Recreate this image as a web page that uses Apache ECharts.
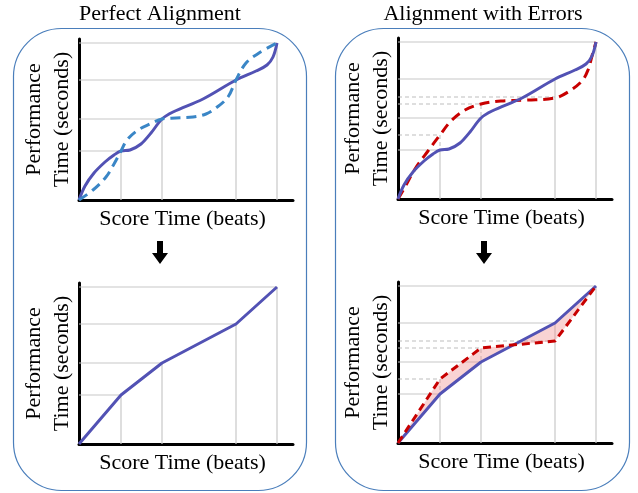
<!DOCTYPE html>
<html>
<head>
<meta charset="utf-8">
<script src="https://cdn.jsdelivr.net/npm/echarts@6/dist/echarts.min.js"></script>
<style>
html,body{margin:0;padding:0;background:#fff;}
#c{width:638px;height:493px;}
</style>
</head>
<body>
<div id="c"></div>
<script>
// ---- data (score time vs performance time, arbitrary units) ----
const panelTitles = ['Perfect Alignment', 'Alignment with Errors'];
const xAxisLabel = 'Score Time (beats)';
const yAxisLabel = 'Performance\nTime (seconds)';

// note onsets (score time) and their true performance times
const noteX = [42, 83, 157, 198];
const alignY = [49, 81, 120, 157];
// erroneous alignment performance times at the same notes
const errY = [64, 95, 102, 157];

// continuous true warping curve
const perfCurveX = [0, 6, 15, 26, 35, 42, 51, 62, 72, 83, 94, 124, 157, 177, 188, 194, 198];
const perfCurveY = [0, 14, 27, 38, 45, 49, 50, 56, 67, 81, 88, 101, 120, 129, 135, 143, 157];

// continuous perfect alignment (dashed, left)
const alignCurveX = [0, 14, 27, 35, 42, 48, 59, 71, 83, 97, 114, 127, 137, 149, 157, 167, 180, 198];
const alignCurveY = [0, 10, 23, 36, 49, 60, 70, 76, 81, 82, 83, 86, 92, 103, 120, 137, 147, 157];

// continuous erroneous alignment (dashed red, right)
const errCurveX = [0, 7, 17, 30, 42, 53, 67, 83, 103, 130, 157, 170, 184, 190, 194, 198];
const errCurveY = [0, 12, 30, 48, 64, 78, 89, 95, 98, 99, 101, 107, 118, 129, 143, 157];

const xMax = 214, yMax = 161;

// ---- build ----
const zip = (xs, ys) => xs.map((x, i) => [x, ys[i]]);
const FONT = '"Liberation Serif", "Times New Roman", serif';
const GRID_C = '#C8C8C8';
const PURPLE = '#5252B4';
const LBLUE = '#3A86C6';
const RED = '#C80000';

const grids = [
  {left: 79, top: 39, width: xMax, height: yMax},
  {left: 398, top: 38, width: xMax, height: yMax},
  {left: 79, top: 283, width: xMax, height: yMax},
  {left: 398, top: 282, width: xMax, height: yMax}
];

const xAxes = grids.map((g, i) => ({
  type: 'value', gridIndex: i, min: 0, max: xMax,
  axisLine: {show: true, lineStyle: {color: '#000', width: 3}},
  axisTick: {show: false}, axisLabel: {show: false}, splitLine: {show: false},
  name: xAxisLabel, nameLocation: 'middle', nameGap: 8,
  nameTextStyle: {fontFamily: FONT, fontSize: 22, color: '#000', lineHeight: 22, padding: [0, 7, 0, 0]}
}));
const yAxes = grids.map((g, i) => ({
  type: 'value', gridIndex: i, min: 0, max: yMax,
  axisLine: {show: true, lineStyle: {color: '#000', width: 3}},
  axisTick: {show: false}, axisLabel: {show: false}, splitLine: {show: false},
  name: yAxisLabel, nameLocation: 'middle', nameGap: 3, nameRotate: 90,
  nameTextStyle: {fontFamily: FONT, fontSize: 22, color: '#000', lineHeight: 28}
}));

const series = [];
function dropLines(ax) {
  noteX.forEach((x, i) => {
    series.push({
      type: 'line', xAxisIndex: ax, yAxisIndex: ax, silent: true, symbol: 'none', animation: false,
      data: [[0, alignY[i]], [x, alignY[i]], [x, 0]],
      lineStyle: {color: GRID_C, width: 1.2}, z: 1
    });
  });
}
function errGuides(ax) {
  noteX.forEach((x, i) => {
    if (errY[i] === alignY[i]) return;
    const d = [[0, errY[i]], [x, errY[i]]];
    if (errY[i] > alignY[i]) d.push([x, alignY[i]]);
    series.push({
      type: 'line', xAxisIndex: ax, yAxisIndex: ax, silent: true, symbol: 'none', animation: false,
      data: d, lineStyle: {color: '#BDBDBD', width: 1, type: [4, 3]}, z: 1
    });
  });
}
for (let a = 0; a < 4; a++) dropLines(a);
errGuides(1); errGuides(3);

// fill between alignments (bottom right)
series.push({
  type: 'custom', xAxisIndex: 3, yAxisIndex: 3, silent: true, animation: false, z: 2,
  data: [[0, 0]],
  renderItem: function (params, api) {
    const pts = [api.coord([0, 0])];
    noteX.forEach((x, i) => pts.push(api.coord([x, alignY[i]])));
    for (let i = noteX.length - 1; i >= 0; i--) pts.push(api.coord([noteX[i], errY[i]]));
    return {type: 'polygon', shape: {points: pts}, style: {fill: 'rgba(240,140,140,0.38)', stroke: 'none'}};
  }
});

const lineBase = {type: 'line', symbol: 'none', silent: true, animation: false, z: 3};
// top-left
series.push(Object.assign({}, lineBase, {xAxisIndex: 0, yAxisIndex: 0, smooth: 0.35, data: zip(perfCurveX, perfCurveY), lineStyle: {color: PURPLE, width: 3}}));
series.push(Object.assign({}, lineBase, {xAxisIndex: 0, yAxisIndex: 0, smooth: 0.35, data: zip(alignCurveX, alignCurveY), lineStyle: {color: LBLUE, width: 3, type: [10, 6]}}));
// top-right
series.push(Object.assign({}, lineBase, {xAxisIndex: 1, yAxisIndex: 1, smooth: 0.35, data: zip(errCurveX, errCurveY), lineStyle: {color: RED, width: 3, type: [10, 6]}}));
series.push(Object.assign({}, lineBase, {xAxisIndex: 1, yAxisIndex: 1, smooth: 0.35, data: zip(perfCurveX, perfCurveY), lineStyle: {color: PURPLE, width: 3}}));
// bottom-left
series.push(Object.assign({}, lineBase, {xAxisIndex: 2, yAxisIndex: 2, data: [[0, 0]].concat(zip(noteX, alignY)), lineStyle: {color: PURPLE, width: 3}}));
// bottom-right
series.push(Object.assign({}, lineBase, {xAxisIndex: 3, yAxisIndex: 3, data: [[0, 0]].concat(zip(noteX, alignY)), lineStyle: {color: PURPLE, width: 3}}));
series.push(Object.assign({}, lineBase, {xAxisIndex: 3, yAxisIndex: 3, z: 4, data: [[0, 0]].concat(zip(noteX, errY)), lineStyle: {color: RED, width: 3, type: [8, 5]}}));

function arrow(cx) {
  return {
    type: 'polygon', silent: true,
    shape: {points: [[cx - 3, 241], [cx + 3, 241], [cx + 3, 253], [cx + 8, 253], [cx, 264], [cx - 8, 253], [cx - 3, 253]]},
    style: {fill: '#000'}
  };
}

const option = {
  backgroundColor: '#fff',
  animation: false,
  grid: grids,
  xAxis: xAxes,
  yAxis: yAxes,
  series: series,
  graphic: [
    {type: 'rect', silent: true, z: -10, shape: {x: 13.5, y: 28.5, width: 293, height: 462, r: 48},
      style: {fill: 'none', stroke: '#4A7EBB', lineWidth: 1.2}},
    {type: 'rect', silent: true, z: -10, shape: {x: 335.5, y: 28.5, width: 294, height: 462, r: 48},
      style: {fill: 'none', stroke: '#4A7EBB', lineWidth: 1.2}},
    {type: 'text', silent: true, x: 160, y: 14,
      style: {text: panelTitles[0], font: '22px ' + FONT, fill: '#000', textAlign: 'center', textVerticalAlign: 'middle'}},
    {type: 'text', silent: true, x: 483, y: 14,
      style: {text: panelTitles[1], font: '22px ' + FONT, fill: '#000', textAlign: 'center', textVerticalAlign: 'middle'}},
    arrow(160),
    arrow(484)
  ]
};

const chart = echarts.init(document.getElementById('c'), null, {renderer: 'canvas'});
chart.setOption(option);
</script>
</body>
</html>
